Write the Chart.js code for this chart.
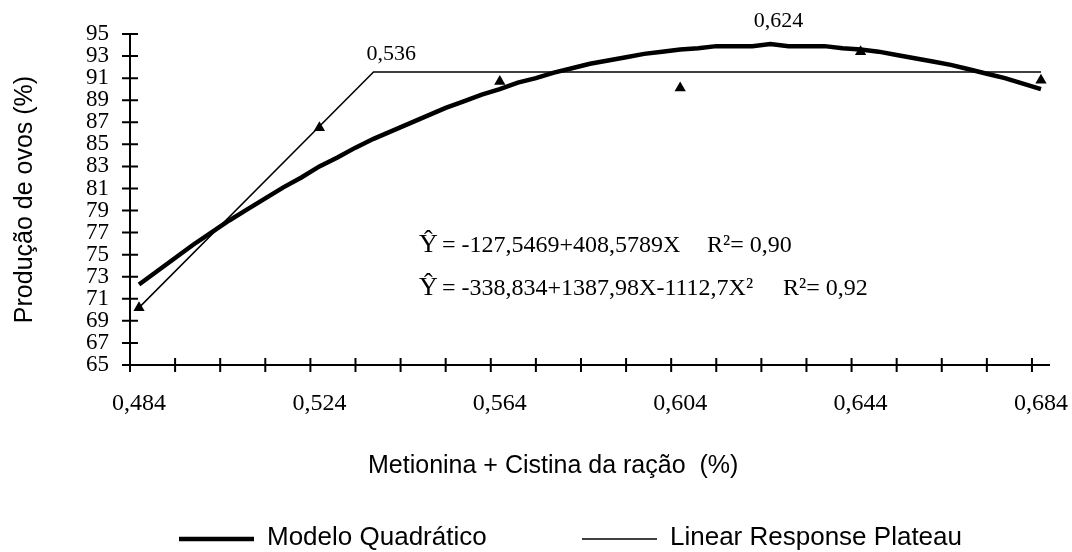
<!DOCTYPE html>
<html>
<head>
<meta charset="utf-8">
<script src="https://cdn.jsdelivr.net/npm/chart.js@4.4.1/dist/chart.umd.min.js"></script>
<style>
  html, body { margin: 0; padding: 0; background: #fff; }
  #wrap { width: 1072px; height: 552px; }
</style>
</head>
<body>
<div id="wrap"><canvas id="grafico" width="1072" height="552"></canvas></div>
<script>
// NIVEIS DE METIONINA + CISTINA (%)
const niveis = [0.484, 0.524, 0.564, 0.604, 0.644, 0.684];
const niveisLabels = ['0,484', '0,524', '0,564', '0,604', '0,644', '0,684'];

// PRODUCAO OBSERVADA (triangulos)
const observado = [70.2, 86.5, 90.7, 90.1, 93.4, 90.8];

// LINEAR RESPONSE PLATEAU (quebra em 0,536)
const platoX = [0.484, 0.536, 0.684];
const platoY = [70.2, 91.55, 91.55];

// MODELO QUADRATICO
const quadX = [0.484, 0.488, 0.492, 0.496, 0.500, 0.504, 0.508, 0.512, 0.516, 0.520,
               0.524, 0.528, 0.532, 0.536, 0.540, 0.544, 0.548, 0.552, 0.556, 0.560,
               0.564, 0.568, 0.572, 0.576, 0.580, 0.584, 0.588, 0.592, 0.596, 0.600,
               0.604, 0.608, 0.612, 0.616, 0.620, 0.624, 0.628, 0.632, 0.636, 0.640,
               0.644, 0.648, 0.652, 0.656, 0.660, 0.664, 0.668, 0.672, 0.676, 0.680, 0.684];
const quadY = [72.3, 73.5, 74.7, 75.9, 77.0, 78.1, 79.1, 80.1, 81.1, 82.0,
               83.0, 83.8, 84.7, 85.5, 86.2, 86.9, 87.6, 88.3, 88.9, 89.5,
               90.0, 90.6, 91.0, 91.5, 91.9, 92.3, 92.6, 92.9, 93.2, 93.4,
               93.6, 93.7, 93.9, 93.9, 93.9, 94.1, 93.9, 93.9, 93.9, 93.7,
               93.6, 93.4, 93.1, 92.8, 92.5, 92.2, 91.8, 91.4, 91.0, 90.5, 90.0];

// TEXTOS
const equacaoLinear = '= -127,5469+408,5789X';
const r2Linear = 'R\u00b2= 0,90';
const equacaoQuad = '= -338,834+1387,98X-1112,7X\u00b2';
const r2Quad = 'R\u00b2= 0,92';
const rotuloPlato = '0,536';
const rotuloMaximo = '0,624';
const maximoX = 0.624;
const maximoY = 94.1;
const tituloX = 'Metionina + Cistina da ração  (%)';

const serif = 'Liberation Serif, Times New Roman, serif';
const sans = 'Liberation Sans, Arial, sans-serif';

function pontos(xs, ys){
	return xs.map((x, i) => ({ x: x, y: ys[i] }));
}

// EIXOS COM MARCAS CRUZANDO A LINHA
const eixos = {
	id: 'eixos',
	beforeDatasetsDraw(chart){
		const { ctx, chartArea: a, scales: { x, y } } = chart;
		ctx.save();
		ctx.strokeStyle = '#000';
		ctx.lineWidth = 2;
		ctx.beginPath();
		ctx.moveTo(a.left, a.top);
		ctx.lineTo(a.left, a.bottom);
		ctx.lineTo(a.right, a.bottom);
		y.ticks.forEach(t => {
			const p = y.getPixelForValue(t.value);
			ctx.moveTo(a.left - 8, p);
			ctx.lineTo(a.left + 8, p);
		});
		for (let k = 0; k <= 20; k++){
			const p = x.getPixelForValue(x.min + k * 0.01);
			ctx.moveTo(p, a.bottom - 7);
			ctx.lineTo(p, a.bottom + 7);
		}
		ctx.stroke();
		ctx.restore();
	}
};

// EQUACOES, ROTULOS E LEGENDA
const textos = {
	id: 'textos',
	afterDatasetsDraw(chart){
		const { ctx, chartArea: a, scales: { x, y } } = chart;
		ctx.save();
		ctx.fillStyle = '#000';
		ctx.textBaseline = 'alphabetic';

		// rotulos 0,536 e 0,624
		ctx.font = '22px ' + serif;
		ctx.textAlign = 'left';
		ctx.fillText(rotuloPlato, x.getPixelForValue(platoX[1]) - 7, y.getPixelForValue(platoY[1]) - 12);
		ctx.textAlign = 'center';
		ctx.fillText(rotuloMaximo, x.getPixelForValue(maximoX) + 8, y.getPixelForValue(maximoY) - 17);

		// equacoes
		ctx.textAlign = 'left';
		const ex = a.left + 289;
		[[equacaoLinear, r2Linear, 252, 577], [equacaoQuad, r2Quad, 295, 653]].forEach(l => {
			ctx.font = '26px ' + serif;
			ctx.fillText('\u0176', ex, l[2]);
			ctx.font = '24px ' + serif;
			ctx.fillText(l[0], ex + 23, l[2]);
			ctx.fillText(l[1], a.left + l[3], l[2]);
		});

		// titulo do eixo x
		ctx.font = '25px ' + sans;
		ctx.textAlign = 'left';
		ctx.fillText(tituloX, a.left + 238, 473);

		// legenda
		const ds = chart.data.datasets;
		const itens = [[ds[0], 179], [ds[1], 582]];
		ctx.font = '26px ' + sans;
		itens.forEach(it => {
			ctx.lineWidth = it[0].borderWidth;
			ctx.beginPath();
			ctx.moveTo(it[1], 539);
			ctx.lineTo(it[1] + 75, 539);
			ctx.stroke();
			ctx.fillText(it[0].label, it[1] + 88, 545);
		});
		ctx.restore();
	}
};

const ctx = document.getElementById('grafico').getContext('2d');

const grafico = new Chart(ctx, {
	type: 'scatter',
	data: {
		datasets: [{
			label: 'Modelo Quadrático',
			data: pontos(quadX, quadY),
			showLine: true,
			borderColor: '#000',
			borderWidth: 4.5,
			pointRadius: 0,
			tension: 0
		},{
			label: 'Linear Response Plateau',
			data: pontos(platoX, platoY),
			showLine: true,
			borderColor: '#000',
			borderWidth: 1.5,
			pointRadius: 0,
			tension: 0
		},{
			label: 'Observado',
			data: pontos(niveis, observado),
			showLine: false,
			pointStyle: 'triangle',
			pointRadius: 6.5,
			backgroundColor: '#000',
			borderColor: '#000',
			borderWidth: 0
		}]
	},
	options: {
		responsive: false,
		animation: false,
		layout: { padding: { left: 0, top: 34, right: 22, bottom: 72 } },
		plugins: {
			legend: { display: false },
			tooltip: { enabled: false }
		},
		scales: {
			x: {
				type: 'linear',
				min: 0.482,
				max: 0.686,
				grid: { display: false, drawTicks: false },
				border: { display: false },
				afterBuildTicks: s => { s.ticks = niveis.map(v => ({ value: v })); },
				afterFit: s => { s.height = 115; s.paddingLeft = 0; s.paddingRight = 0; },
				ticks: {
					autoSkip: false,
					maxRotation: 0,
					padding: 24,
					color: '#000',
					font: { family: serif, size: 24 },
					callback: (v, i) => niveisLabels[i]
				}
			},
			y: {
				min: 65,
				max: 95,
				grid: { display: false, drawTicks: false },
				border: { display: false },
				afterFit: s => { s.width = 130; s.paddingTop = 0; s.paddingBottom = 0; },
				ticks: {
					stepSize: 2,
					autoSkip: false,
					padding: 21,
					color: '#000',
					font: { family: serif, size: 23 }
				},
				title: {
					display: true,
					text: 'Produção de ovos (%)',
					color: '#000',
					font: { family: sans, size: 25 },
					padding: { top: 10, bottom: 0 }
				}
			}
		}
	},
	plugins: [eixos, textos]
});
</script>
</body>
</html>
